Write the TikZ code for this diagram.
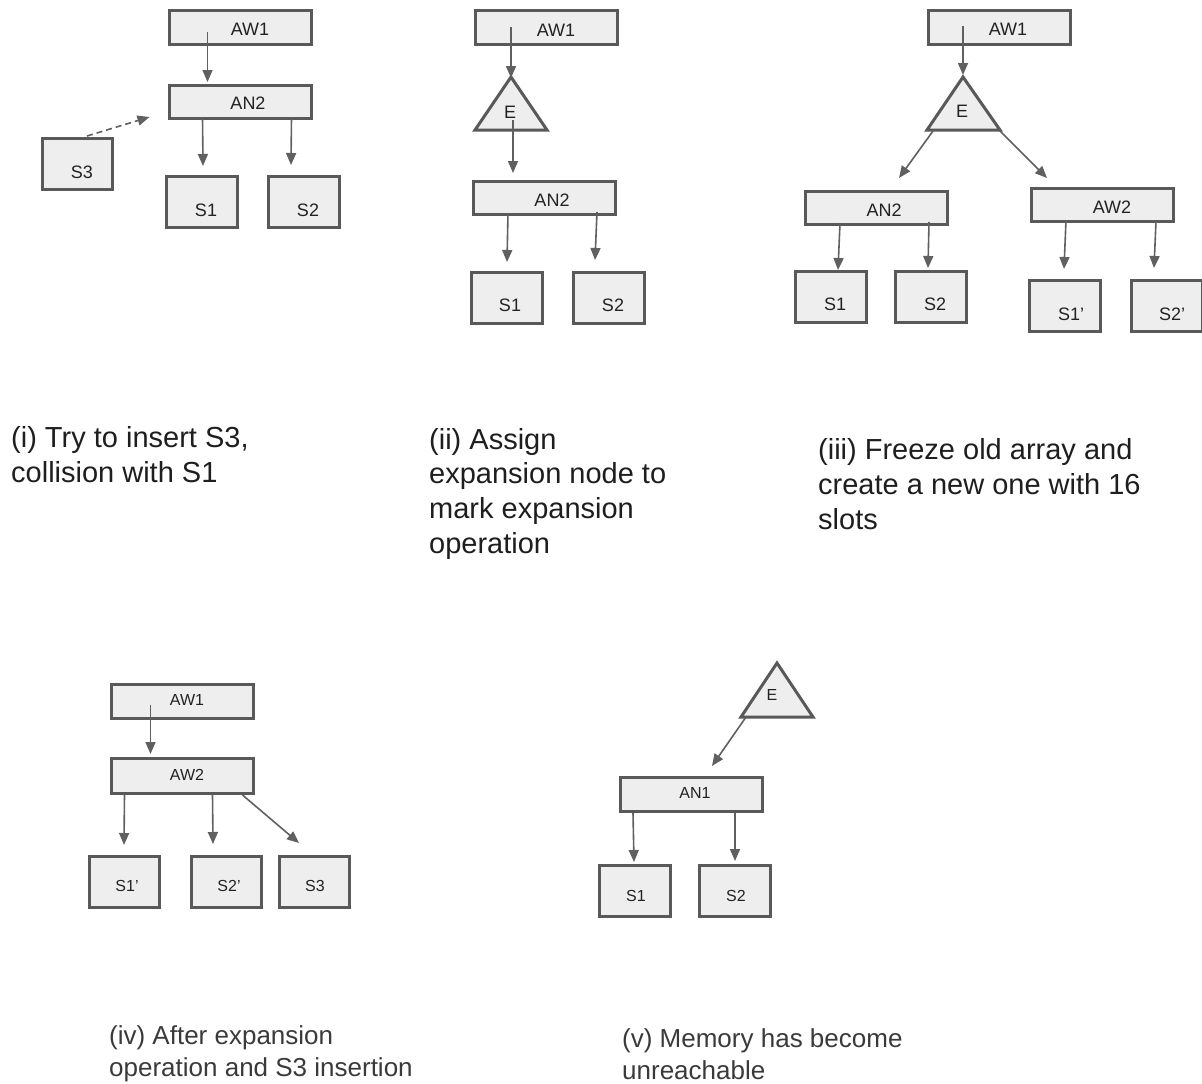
\documentclass[tikz,border=0pt]{standalone}
\usepackage{fontspec}
\setmainfont{Liberation Sans}
\usetikzlibrary{arrows.meta,calc}

\definecolor{boxfill}{HTML}{EEEEEE}
\definecolor{boxline}{HTML}{595959}
\definecolor{arrcol}{HTML}{606060}
\definecolor{lblcol}{HTML}{222222}
\definecolor{capcol}{HTML}{1E1E1E}
\definecolor{capcolb}{HTML}{3A3A3A}

% connector between two anchors, each with an offset (x right, y down)
\newcommand\conn[5][]{\draw[arr,#1] ($(#2)+(#3)$) -- ($(#4)+(#5)$);}

\begin{document}
\begin{tikzpicture}[x=1pt,y=-1pt,
  cell/.style={draw=boxline, line width=3pt, fill=boxfill, inner sep=0pt,
    minimum width=#1-3, minimum height=51},
  cell/.default=74,
  wide/.style={draw=boxline, line width=3pt, fill=boxfill, inner sep=0pt,
    minimum width=142, minimum height=#1-3},
  wide/.default=37,
  tri/.style={draw=boxline, line width=3pt, fill=boxfill, line join=miter},
  lbl/.style={inner sep=0pt, text=lblcol, font=\fontsize{18}{21}\selectfont},
  slbl/.style={inner sep=0pt, text=lblcol, font=\fontsize{16}{19}\selectfont},
  arr/.style={draw=arrcol, line width=1.6pt, -{Triangle[length=12pt,width=10pt]}},
  captext/.style={anchor=base west, align=left, inner sep=0pt, text=capcol,
    font=\fontsize{29}{34.8}\selectfont},
  captextb/.style={anchor=base west, align=left, inner sep=0pt, text=capcolb,
    font=\fontsize{26}{32}\selectfont},
]
\useasboundingbox (0,0) rectangle (1202,1084);

% ---------- (i) ----------
\node[wide] (p1aw1) at (240,27.5) {};
\node[lbl] (p1aw1t) at (250,29) {AW1};
\node[wide=36] (p1an2) at (240,102) {};
\node[lbl] (p1an2t) at (248,103) {AN2};
\node[cell=73] (p1s3) at (77.5,164) {};
\node[lbl] (p1s3t) at (82,172) {S3};
\node[cell] (p1s1) at (202,202) {};
\node[lbl] (p1s1t) at (206,210) {S1};
\node[cell] (p1s2) at (304,202) {};
\node[lbl] (p1s2t) at (308,210) {S2};
\conn{p1aw1.north west}{40,23}{p1an2.north west}{40,-2}
\conn{p1an2.north west}{35,33}{p1s1.north west}{38,-9}
\conn{p1an2.north west}{124,33}{p1s2.north west}{24,-10}
\conn[dashed, dash pattern=on 6pt off 4pt]{p1s3.north west}{46,-1}{p1an2.north west}{-18,33}

% ---------- (ii) ----------
\node[wide] (p2aw1) at (546.5,27.5) {};
\node[lbl] (p2aw1t) at (556,30) {AW1};
\coordinate (p2apex) at (511,77);
\draw[tri] (p2apex) -- (547,130) -- (475,130) -- cycle;
\node[lbl] (p2e) at (510,112) {E};
\node[wide=36] (p2an2) at (544.5,198) {};
\node[lbl] (p2an2t) at (552,200) {AN2};
\node[cell] (p2s1) at (507,298) {};
\node[lbl] (p2s1t) at (510,305) {S1};
\node[cell] (p2s2) at (609,298) {};
\node[lbl] (p2s2t) at (613,305) {S2};
\conn{p2aw1.north west}{37,18}{p2apex}{0,1}
\conn{p2apex}{2,43}{p2an2.north west}{41,-7}
\conn{p2an2.north west}{36,33}{p2s1.north west}{37,-9}
\conn{p2an2.north west}{125,32}{p2s2.north west}{23,-11}

% ---------- (iii) ----------
\node[wide] (p3aw1) at (999.5,27.5) {};
\node[lbl] (p3aw1t) at (1008,29) {AW1};
\coordinate (p3apex) at (963,77);
\draw[tri] (p3apex) -- (1000,130) -- (927,130) -- cycle;
\node[lbl] (p3e) at (962,111) {E};
\node[wide=36] (p3an2) at (876.5,208) {};
\node[lbl] (p3an2t) at (884,210) {AN2};
\node[wide=36] (p3aw2) at (1102.5,205) {};
\node[lbl] (p3aw2t) at (1112,207) {AW2};
\node[cell] (p3s1) at (831,297) {};
\node[lbl] (p3s1t) at (835,304) {S1};
\node[cell] (p3s2) at (931,297) {};
\node[lbl] (p3s2t) at (935,304) {S2};
\node[cell] (p3s1p) at (1065,306) {};
\node[lbl] (p3s1pt) at (1071,314) {S1'};
\node[cell] (p3s2p) at (1167,306) {};
\node[lbl] (p3s2pt) at (1172,314) {S2'};
\conn{p3aw1.north west}{36,17}{p3apex}{0,-2}
\conn{p3apex}{-30,54}{p3an2.north west}{95,-12}
\conn{p3apex}{36,53}{p3aw2.north west}{17,-9}
\conn{p3an2.north west}{36,33}{p3s1.north west}{44,0}
\conn{p3an2.north west}{125,32}{p3s2.north west}{34,-2}
\conn{p3aw2.north west}{36,33}{p3s1p.north west}{36,-10}
\conn{p3aw2.north west}{126,34}{p3s2p.north west}{24,-11}

% ---------- (iv) ----------
\node[wide] (p4aw1) at (182,701.5) {};
\node[slbl] (p4aw1t) at (187,700) {AW1};
\node[wide=38] (p4aw2) at (182,776) {};
\node[slbl] (p4aw2t) at (187,775) {AW2};
\node[cell=73] (p4s1p) at (124.5,882) {};
\node[slbl] (p4s1pt) at (127,886) {S1'};
\node[cell=73] (p4s2p) at (226.5,882) {};
\node[slbl] (p4s2pt) at (229,886) {S2'};
\node[cell=73] (p4s3) at (314.5,882) {};
\node[slbl] (p4s3t) at (315,886) {S3};
\conn{p4aw1.north west}{41,22}{p4aw2.north west}{41,-3}
\conn{p4aw2.north west}{15,38}{p4s1p.north west}{36,-10}
\conn{p4aw2.north west}{103,38}{p4s2p.north west}{23,-11}
\conn{p4aw2.north west}{133,38}{p4s3.north west}{21,-12}

% ---------- (v) ----------
\coordinate (p5apex) at (777,663);
\draw[tri] (p5apex) -- (813,717) -- (741,717) -- cycle;
\node[slbl] (p5e) at (772,695) {E};
\node[wide] (p5an1) at (691.5,794.5) {};
\node[slbl] (p5an1t) at (695,793) {AN1};
\node[cell] (p5s1) at (635,891) {};
\node[slbl] (p5s1t) at (636,896) {S1};
\node[cell] (p5s2) at (735,891) {};
\node[slbl] (p5s2t) at (736,896) {S2};
\conn{p5apex}{-31,54}{p5an1.north west}{93,-10}
\conn{p5an1.north west}{14,37}{p5s1.north west}{36,-2}
\conn{p5an1.north west}{116,37}{p5s2.north west}{37,-3}

% ---------- captions (anchored at the baseline of the last line) ----------
\node[captext] (c1) at (11,482) {(i) Try to insert S3,\\collision with S1};
\node[captext] (c2) at (429,553.5) {(ii) Assign\\expansion node to\\mark expansion\\operation};
\node[captext] (c3) at (818,529.5) {(iii) Freeze old array and\\create a new one with 16\\slots};
\node[captextb] (c4) at (109,1076) {(iv) After expansion\\operation and S3 insertion};
\node[captextb] (c5) at (622,1079) {(v) Memory has become\\unreachable};
\end{tikzpicture}
\end{document}
